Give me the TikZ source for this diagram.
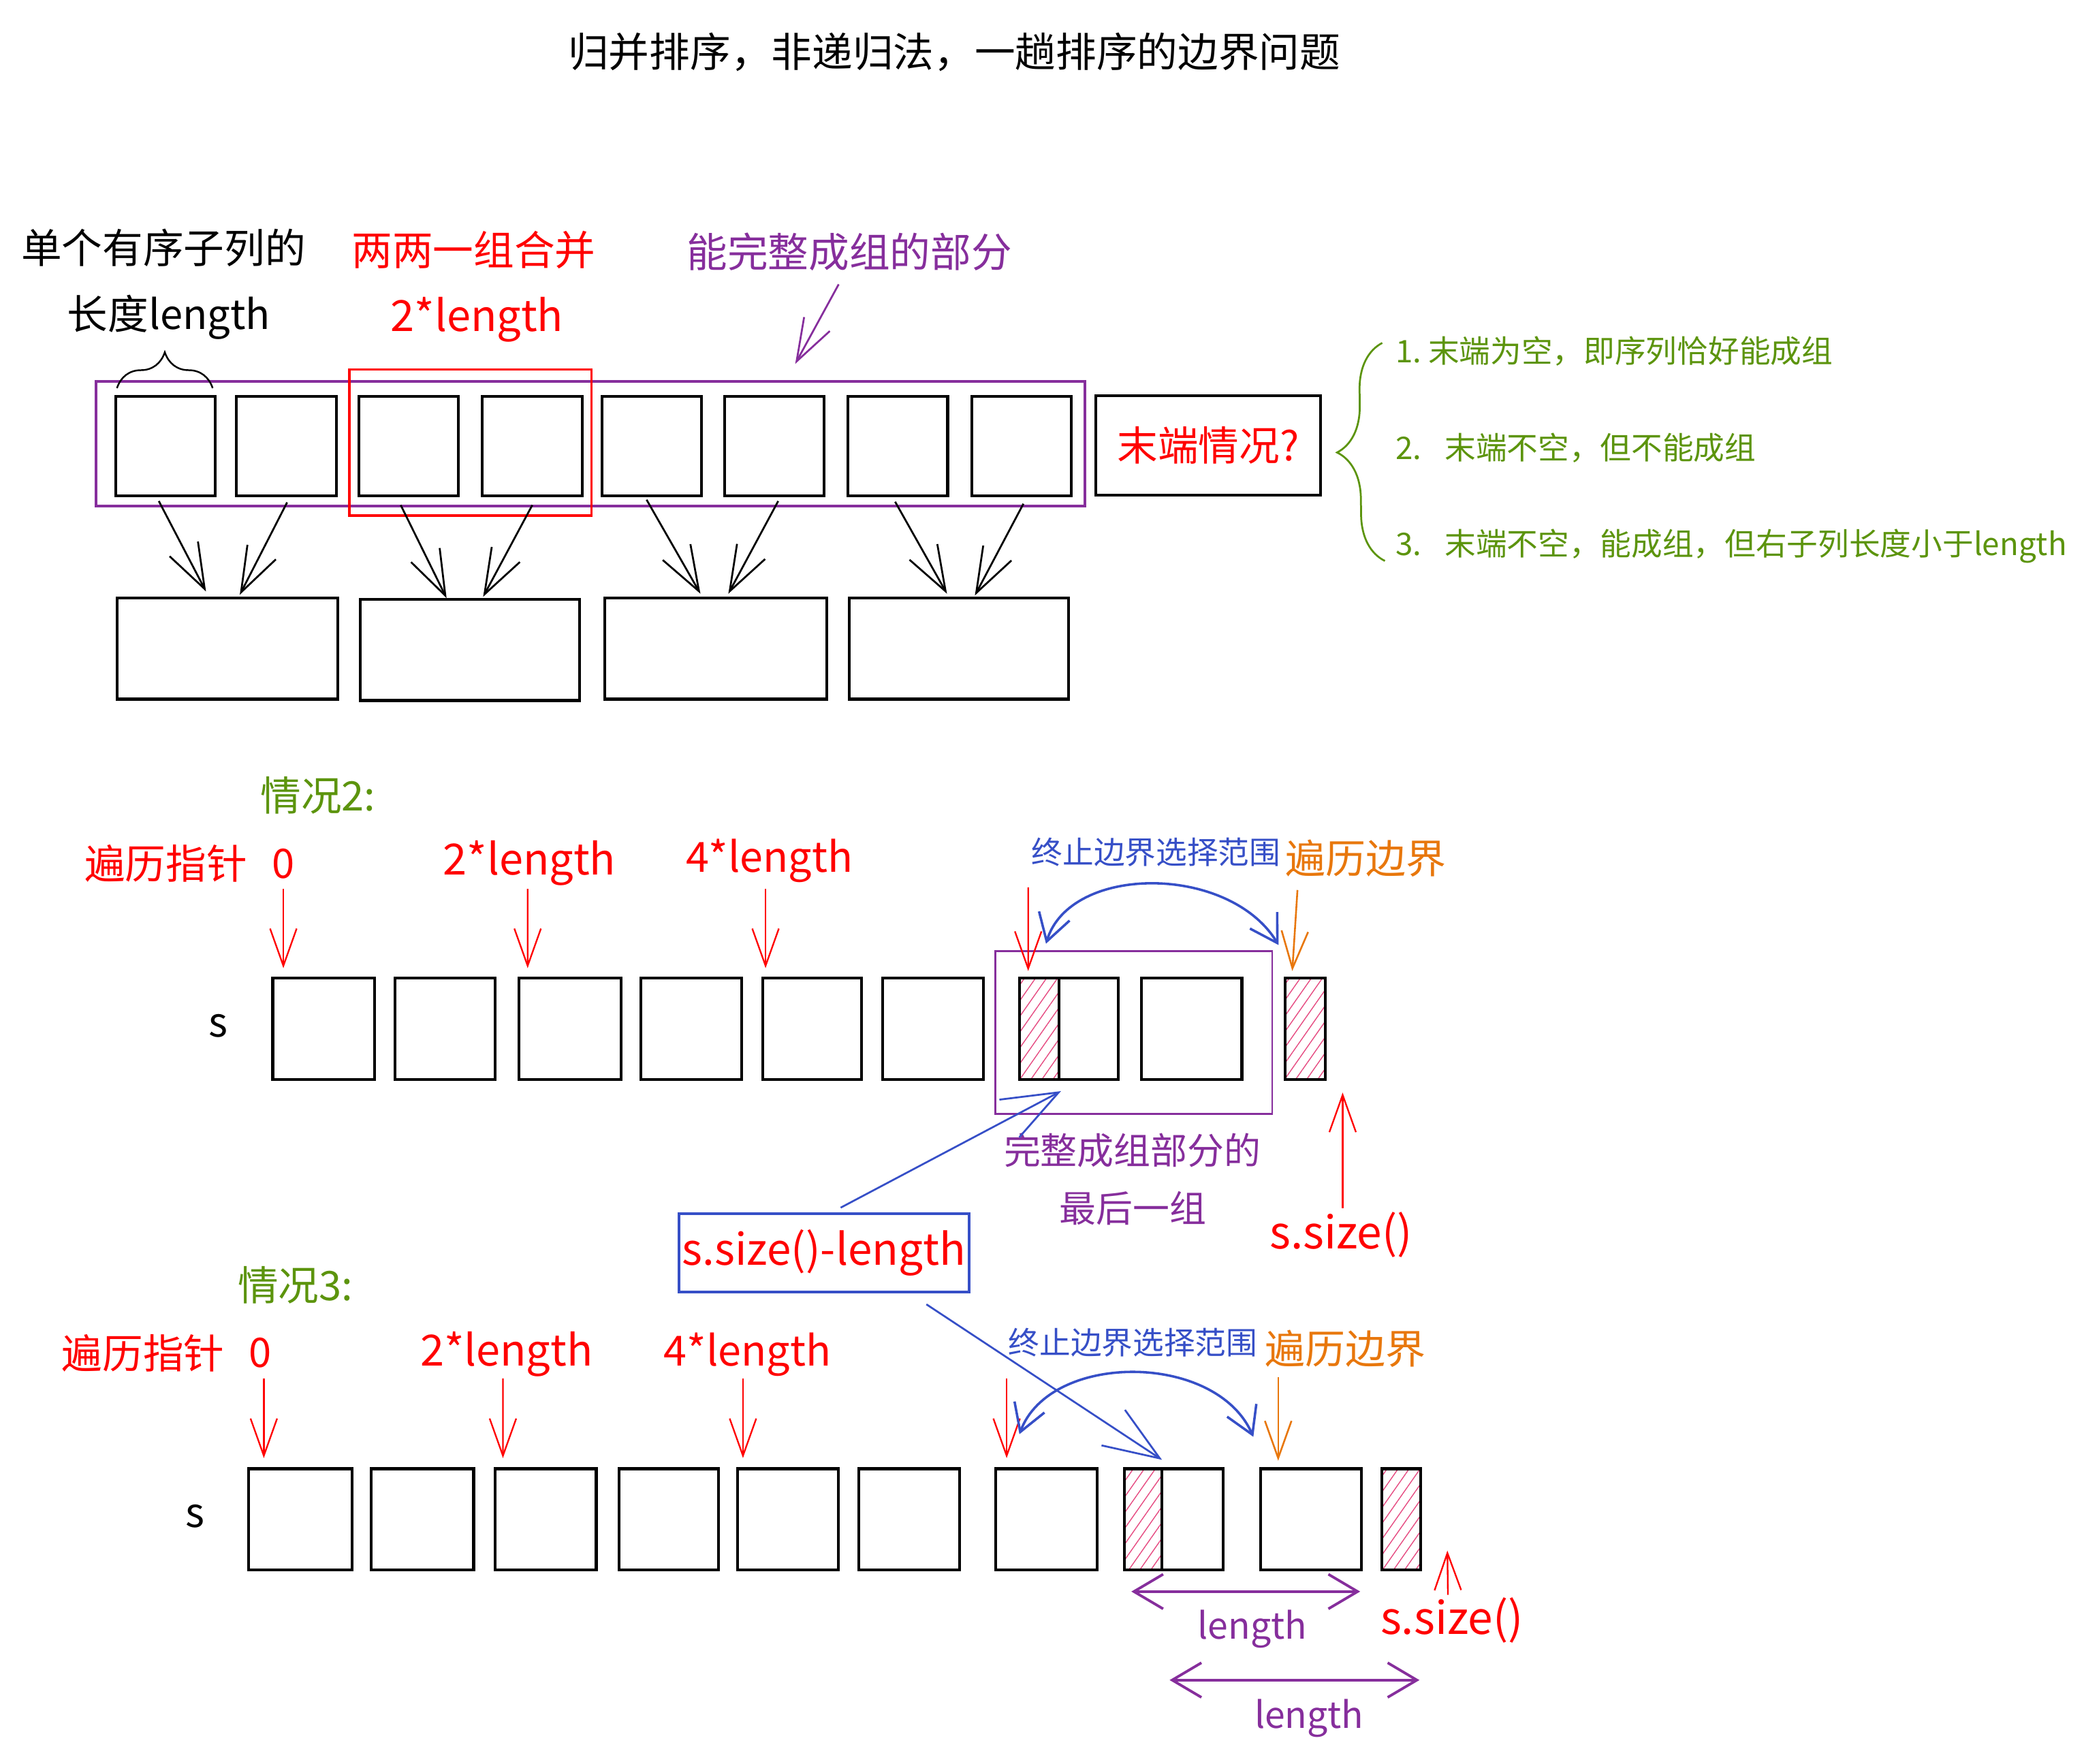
\documentclass[tikz,border=0pt]{standalone}
\usepackage{fontspec}
\setmainfont{Noto Sans CJK SC}
\usetikzlibrary{arrows.meta,calc,decorations.pathreplacing,patterns.meta}
\definecolor{cred}{HTML}{FF0000}
\definecolor{cpur}{HTML}{862E9C}
\definecolor{cgrn}{HTML}{5C940D}
\definecolor{cblu}{HTML}{364FC7}
\definecolor{corg}{HTML}{E8770C}
\definecolor{chatch}{HTML}{E64980}
\newdimen\uu \uu=0.5mm
\newcommand\fsz[1]{\fontsize{#1pt}{#1pt}\selectfont}
\newcommand\sqnode[6][]{\node[sq,#1,minimum width=#5\uu,minimum height=#6\uu] (#2) at (#3,#4) {};}
\begin{document}
\begin{tikzpicture}[x=0.5mm,y=-0.5mm,
  lbl/.style={inner sep=0pt,outer sep=0pt},
  big/.style={lbl,font=\fsz{43.5}},
  small/.style={lbl,font=\fsz{33.3}},
  sq/.style={draw=black,line width=3pt,anchor=north west,inner sep=0pt,outer sep=0pt},
  frame/.style={anchor=north west,inner sep=0pt,outer sep=0pt},
  hatched/.style={pattern={Lines[angle=55,distance=3.4mm,line width=1pt]},pattern color=chatch},
  blackarr/.style={draw=black,line width=2pt,-{Straight Barb[length=17mm,width=12mm]}},
  purarr/.style={draw=cpur,line width=2pt,-{Straight Barb[length=16mm,width=11mm]}},
  redarr/.style={draw=cred,line width=1.7pt,-{Straight Barb[length=14mm,width=10mm]}},
  orgarr/.style={draw=corg,line width=1.9pt,-{Straight Barb[length=14mm,width=10mm]}},
  bluarr/.style={draw=cblu,line width=2pt,-{Straight Barb[length=21mm,width=16mm]}},
  bluarc/.style={draw=cblu,line width=2.6pt,{Straight Barb[length=10mm,width=12mm]}-{Straight Barb[length=10mm,width=12mm]}},
  purdim/.style={draw=cpur,line width=2.8pt,{Straight Barb[length=11mm,width=13mm]}-{Straight Barb[length=11mm,width=13mm]}},
]
\path[fill=white] (0,0) rectangle (1568,1327);
\useasboundingbox (0,0) rectangle (1568,1327);

% ---------- title ----------
\node[big] (title) at (718,39.3) {归并排序，非递归法，一趟排序的边界问题};

% ---------- top section ----------
\node[big,anchor=west] (lblA) at (16,186.2) {单个有序子列的};
\node[big,anchor=base west] (lblB) at (50.7,247.5) {长度length};
\node[big,anchor=west,text=cred] (lblC) at (264.7,187.9) {两两一组合并};
\node[lbl,font=\fsz{46},anchor=base west,text=cred] (lblD) at (294,249.4) {2*length};
\node[big,anchor=west,text=cpur] (lblE) at (516.7,189.6) {能完整成组的部分};

\node[frame,draw=cpur,line width=2.8pt,minimum width=744\uu,minimum height=94\uu] (grp1) at (72.3,286.8) {};
\node[frame,draw=cred,line width=2.8pt,minimum width=182\uu,minimum height=110\uu] (pair1) at (263,278) {};

\sqnode{b1}{87}{298}{75}{75}
\sqnode{b2}{178}{298}{75}{75}
\sqnode{b3}{270}{298}{75}{75}
\sqnode{b4}{363}{298}{75}{75}
\sqnode{b5}{453}{298}{75}{75}
\sqnode{b6}{545}{298}{75}{75}
\sqnode{b7}{638}{298}{75}{75}
\sqnode{b8}{731}{298}{75}{75}
\node[sq,minimum width=169\uu,minimum height=75\uu,font=\fsz{43.5},text=cred] (q) at (824.5,297.7) {末端情况?};

\sqnode{mg1}{88}{450}{166}{76}
\sqnode{mg2}{271}{451}{165}{76}
\sqnode{mg3}{455}{450}{167}{76}
\sqnode{mg4}{639}{450}{165}{76}

\draw[blackarr] ($(b1.south)+(-5,4)$) -- ($(mg1.north)+(-16,-5)$);
\draw[blackarr] ($(b2.south)+(0.5,5)$) -- ($(mg1.north)+(9.4,-2.5)$);
\draw[blackarr] ($(b3.south)+(-6,7)$) -- ($(mg2.north)+(-17.5,-1)$);
\draw[blackarr] ($(b4.south)+(0,7)$) -- ($(mg2.north)+(10,-2)$);
\draw[blackarr] ($(b5.south)+(-4,3)$) -- ($(mg3.north)+(-11.5,-3.3)$);
\draw[blackarr] ($(b6.south)+(3,4)$) -- ($(mg3.north)+(9.5,-3.3)$);
\draw[blackarr] ($(b7.south)+(-2,4.5)$) -- ($(mg4.north)+(-9,-3.3)$);
\draw[blackarr] ($(b8.south)+(1.5,6)$) -- ($(mg4.north)+(12,-2)$);

\draw[line width=1.8pt,decorate,decoration={brace,amplitude=13.5mm}]
  ($(b1.north west)+(1,-6)$) -- ($(b1.north east)+(-2,-6)$);

\draw[purarr] ($(lblE.south)+(-8,10)$) -- ($(grp1.north west)+(526,-13)$);

\coordinate (gb1) at (1042,422);
\coordinate (gb2) at (1040,258);
\draw[cgrn,line width=2pt,decorate,decoration={brace,amplitude=17.5mm}] (gb1) -- (gb2);
\node[small,anchor=west,text=cgrn] (g1) at (1050,264) {1.\hspace{0.22em}末端为空，即序列恰好能成组};
\node[small,anchor=west,text=cgrn] (g2) at (1050,337) {2.\hspace{0.75em}末端不空，但不能成组};
\node[small,anchor=west,text=cgrn] (g3) at (1050,410.8) {3.\hspace{0.75em}末端不空，能成组，但右子列长度小于length};

% ---------- case 2 ----------
\node[big,anchor=west,text=cgrn] (c2) at (196,598.5) {情况2:};
\node[big,anchor=west,text=cred] (p2a) at (63.7,649.7) {遍历指针};
\node[big,text=cred] (p2z) at (213.4,650) {0};
\node[lbl,font=\fsz{46},anchor=base west,text=cred] (p2b) at (333.4,658) {2*length};
\node[lbl,font=\fsz{44.5},anchor=base west,text=cred] (p2c) at (516,656) {4*length};
\node[small,anchor=west,text=cblu] (t2) at (776.2,641.3) {终止边界选择范围};
\node[lbl,font=\fsz{43},anchor=west,text=corg] (o2) at (967,645.9) {遍历边界};
\node[big] (s2) at (164.4,772) {s};

\node[frame,draw=cpur,line width=2pt,minimum width=208.5\uu,minimum height=122.4\uu] (grp2) at (748.7,715.6) {};

\sqnode{r1}{205.2}{736}{76.5}{76}
\sqnode{r2}{297.3}{736}{75.3}{76}
\sqnode{r3}{390.5}{736}{76.8}{76}
\sqnode{r4}{482}{736}{76}{76}
\sqnode{r5}{574}{736}{74}{76}
\sqnode{r6}{664}{736}{76}{76}
\sqnode{r7}{767.1}{736}{74.4}{76}
\sqnode[hatched]{h7}{767.1}{736}{29.9}{76}
\sqnode{r8}{858.6}{736}{75.8}{76}
\sqnode[hatched]{r9}{967}{736}{30.3}{76}

\coordinate (a21) at (213.2,668.7);
\coordinate (a22) at (397,668.7);
\coordinate (a23) at (576,668.7);
\coordinate (a24) at (773.6,667.6);
\draw[redarr] (a21) -- ($(r1.north west)+(8,-7.6)$);
\draw[redarr] (a22) -- ($(r3.north west)+(6.5,-7.6)$);
\draw[redarr] (a23) -- ($(r5.north west)+(2,-7.6)$);
\draw[redarr] (a24) -- ($(r7.north west)+(6.5,-5.5)$);
\coordinate (o2s) at (976.2,669.6);
\draw[orgarr] (o2s) -- ($(r9.north west)+(5.3,-5.5)$);

\coordinate (arcL2) at (787,710);
\coordinate (arcR2) at (962,711);
\draw[bluarc] (arcL2) .. controls (805,650) and (925,650) .. (arcR2);

\node[lbl,font=\fsz{39.3},anchor=west,text=cpur] (w2a) at (755.3,865.4) {完整成组部分的};
\node[lbl,font=\fsz{39.3},anchor=west,text=cpur] (w2b) at (797,909) {最后一组};

\node[lbl,font=\fsz{48},text=cred] (ss2) at (1009,929) {s.size()};
\draw[redarr] ($(ss2.north)+(1.2,-3)$) -- ($(r9.south east)+(12.9,10)$);

\node[frame,draw=cblu,line width=2.8pt,minimum width=218\uu,minimum height=59\uu,
      font=\fsz{46.5},text=cred] (sbox) at (511,913) {s.size()-length};
\draw[bluarr] ($(sbox.north west)+(121.5,-4.4)$) -- ($(h7.south east)+(1.3,8.9)$);

% ---------- case 3 ----------
\node[big,anchor=west,text=cgrn] (c3) at (178.9,966.8) {情况3:};
\node[big,anchor=west,text=cred] (p3a) at (46.6,1018) {遍历指针};
\node[big,text=cred] (p3z) at (195.6,1018) {0};
\node[lbl,font=\fsz{46},anchor=base west,text=cred] (p3b) at (316.2,1027.5) {2*length};
\node[lbl,font=\fsz{44.5},anchor=base west,text=cred] (p3c) at (499.6,1027.4) {4*length};
\node[small,anchor=west,text=cblu] (t3) at (758.7,1010.3) {终止边界选择范围};
\node[lbl,font=\fsz{43},anchor=west,text=corg] (o3) at (952,1014.6) {遍历边界};
\node[big] (s3) at (147,1140.7) {s};

\sqnode{k1}{187.2}{1105}{77.5}{76}
\sqnode{k2}{279.4}{1105}{77}{76}
\sqnode{k3}{372.6}{1105}{76}{76}
\sqnode{k4}{465.7}{1105}{75}{76}
\sqnode{k5}{555}{1105}{76}{76}
\sqnode{k6}{646}{1105}{76}{76}
\sqnode{k7}{749.2}{1105}{76.3}{76}
\sqnode{k8}{845.9}{1105}{74.4}{76}
\sqnode[hatched]{h8}{845.9}{1105}{28.1}{76}
\sqnode{k9}{948.3}{1105}{76}{76}
\sqnode[hatched]{k10}{1039.5}{1105}{29.5}{76}

\coordinate (a31) at (198.5,1037);
\coordinate (a32) at (378.4,1037);
\coordinate (a33) at (559,1037);
\coordinate (a34) at (757.4,1037);
\draw[redarr] (a31) -- ($(k1.north west)+(11.3,-8)$);
\draw[redarr] (a32) -- ($(k3.north west)+(5.8,-8)$);
\draw[redarr] (a33) -- ($(k5.north west)+(4,-8)$);
\draw[redarr] (a34) -- ($(k7.north west)+(8.2,-8)$);
\coordinate (o3s) at (961.7,1036);
\draw[orgarr] (o3s) -- ($(k9.north west)+(13.4,-6)$);

\coordinate (arcL3) at (767,1079);
\coordinate (arcR3) at (943,1081);
\draw[bluarc] (arcL3) .. controls (790,1017) and (915,1017) .. (arcR3);

\draw[bluarr] ($(sbox.south east)+(-32,9.3)$) -- ($(k8.north)+(-8.8,-6.7)$);

\coordinate (d1a) at (851.2,1197.4);
\coordinate (d1b) at (1023.4,1197.4);
\draw[purdim] (d1a) -- (d1b);
\node[lbl,font=\fsz{39},anchor=base west,text=cpur] (len1) at (901.2,1233.3) {length};
\coordinate (d2a) at (880,1264);
\coordinate (d2b) at (1068,1264);
\draw[purdim] (d2a) -- (d2b);
\node[lbl,font=\fsz{39},anchor=base west,text=cpur] (len2) at (943.9,1300) {length};

\node[lbl,font=\fsz{48},text=cred] (ss3) at (1092.4,1219) {s.size()};
\draw[redarr] ($(ss3.north)+(-3,-2)$) -- ($(k10.south east)+(20,-14.4)$);
\end{tikzpicture}
\end{document}
